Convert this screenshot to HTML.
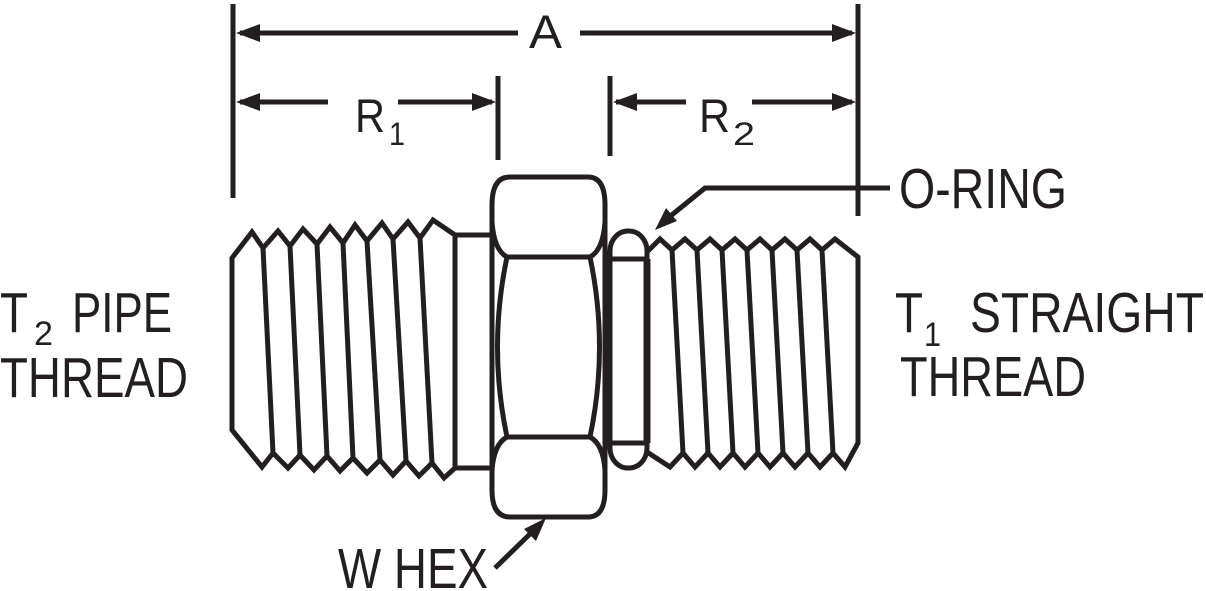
<!DOCTYPE html>
<html><head><meta charset="utf-8"><style>
html,body{margin:0;padding:0;background:#fff;}
svg{display:block;}
text{font-family:"Liberation Sans",sans-serif;fill:#231f20;}
</style></head><body>
<svg width="1206" height="591" viewBox="0 0 1206 591" xmlns="http://www.w3.org/2000/svg">
<g stroke="#231f20" stroke-width="5" fill="none" stroke-linejoin="miter">
<!-- extension lines -->
<line x1="233" y1="4" x2="233" y2="198"/>
<line x1="858" y1="4" x2="858" y2="216"/>
<line x1="498" y1="76" x2="498" y2="160"/>
<line x1="610" y1="76" x2="610" y2="156"/>
<!-- A dim -->
<line x1="240" y1="33" x2="518" y2="33"/>
<line x1="580" y1="33" x2="852" y2="33"/>
<!-- R1 -->
<line x1="240" y1="102" x2="328" y2="102"/>
<line x1="398" y1="102" x2="492" y2="102"/>
<!-- R2 -->
<line x1="616" y1="102" x2="686" y2="102"/>
<line x1="752" y1="102" x2="852" y2="102"/>
<!-- O-ring leader -->
<polyline points="890,188 705,188 668,218"/>
<!-- W hex leader -->
<line x1="495" y1="568" x2="532" y2="532"/>

<!-- left thread -->
<path d="M232,258 L252,232 L263,248 L278,231 L290,246 L303,229 L317,244 L330,227 L343,243 L355,225 L367,241 L382,223 L393,239 L408,222 L420,238 L433,220 L455,235 L455,468 L444,478 L432,463 L419,476 L406,461 L393,475 L380,460 L367,473 L353,458 L340,471 L327,456 L314,470 L300,455 L288,468 L273,453 L262,467 L232,430 Z"/>
<path d="M263,248 L273,453 M290,246 L300,455 M317,244 L327,456 M343,243 L353,458 M367,241 L380,460 M393,239 L406,461 M420,238 L432,463"/>
<!-- collar -->
<path d="M455,235 H492 M455,468 H492"/>

<!-- hex -->
<path d="M492,205 Q492,177 510,177 H588 Q605,177 605,205 V490 Q605,517 588,517 H510 Q492,517 492,490 Z"/>
<path d="M492,222 Q494,250 507,257 H590 Q603,250 605,222"/>
<path d="M492,470 Q494,444 507,437 H590 Q603,444 605,470"/>
<path d="M507,257 Q488,347 507,437 M590,257 Q609,347 590,437"/>

<!-- o-ring -->
<rect x="610" y="231" width="37" height="237" rx="18" ry="20"/>
<path d="M612,259 H647 M612,443 H647"/>
<line x1="647" y1="259" x2="647" y2="443" stroke-width="7"/>

<!-- right thread -->
<path d="M647,252 L660,239 L672,250 L685,239 L697,250 L710,239 L722,250 L735,239 L747,250 L760,239 L772,250 L785,239 L797,250 L810,239 L822,250 L835,239 L858,257 L858,443 L845,467 L833,453 L820,467 L808,453 L795,467 L783,453 L770,467 L758,453 L745,467 L733,453 L720,467 L708,453 L695,467 L683,453 L670,467 L647,452"/>
<path d="M672,250 L683,453 M697,250 L708,453 M722,250 L733,453 M747,250 L758,453 M772,250 L783,453 M797,250 L808,453 M822,250 L833,453"/>
</g>
<g fill="#231f20">
<polygon points="236,33 260,24 260,42"/>
<polygon points="856,33 832,24 832,42"/>
<polygon points="236,102 260,93 260,111"/>
<polygon points="496,102 472,93 472,111"/>
<polygon points="613,102 637,93 637,111"/>
<polygon points="856,102 832,93 832,111"/>
<polygon points="655,230 666,208 677,221"/>
<polygon points="546,518 524,529 536,541"/>
</g>
<g font-size="57">
<text x="529" y="48" font-size="47" textLength="33" lengthAdjust="spacingAndGlyphs">A</text>
<text x="355" y="132" font-size="47" textLength="30" lengthAdjust="spacingAndGlyphs">R</text>
<text x="389" y="145" font-size="32" textLength="16" lengthAdjust="spacingAndGlyphs">1</text>
<text x="699" y="132" font-size="47" textLength="31" lengthAdjust="spacingAndGlyphs">R</text>
<text x="733" y="145" font-size="32" textLength="22" lengthAdjust="spacingAndGlyphs">2</text>
<text x="899" y="208" textLength="168" lengthAdjust="spacingAndGlyphs">O-RING</text>
<text x="895" y="332" textLength="28" lengthAdjust="spacingAndGlyphs">T</text>
<text x="924" y="346" font-size="34" textLength="17" lengthAdjust="spacingAndGlyphs">1</text>
<text x="970" y="332" textLength="234" lengthAdjust="spacingAndGlyphs">STRAIGHT</text>
<text x="900" y="396" textLength="186" lengthAdjust="spacingAndGlyphs">THREAD</text>
<text x="0" y="332" textLength="28" lengthAdjust="spacingAndGlyphs">T</text>
<text x="34" y="345" font-size="34" textLength="19" lengthAdjust="spacingAndGlyphs">2</text>
<text x="72" y="332" textLength="100" lengthAdjust="spacingAndGlyphs">PIPE</text>
<text x="0" y="397" textLength="188" lengthAdjust="spacingAndGlyphs">THREAD</text>
<text x="338" y="588" textLength="150" lengthAdjust="spacingAndGlyphs">W HEX</text>
</g>
</svg>
</body></html>
